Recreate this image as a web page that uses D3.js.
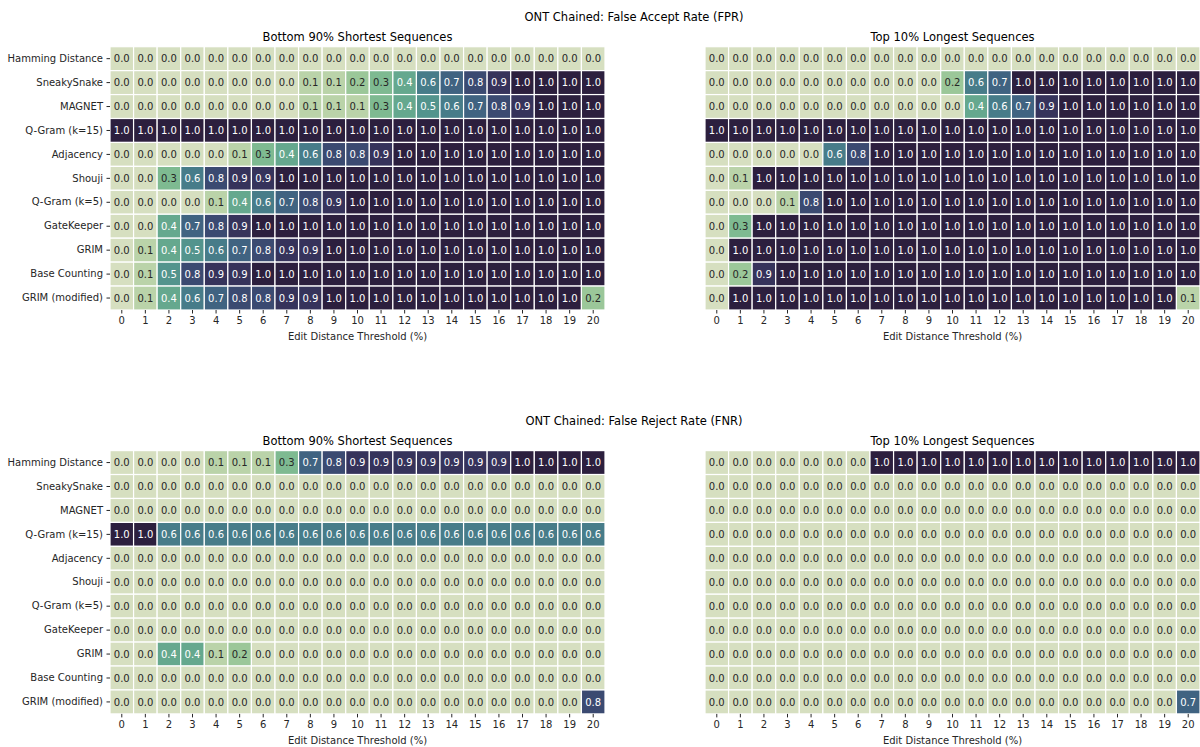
<!DOCTYPE html>
<html>
<head>
	<meta charset="utf-8">
	<title>ONT Chained: FPR / FNR</title>
	<script type="text/javascript" src="https://cdn.jsdelivr.net/npm/d3@7"></script>
	<style type="text/css">
		body {
			margin: 0;
			background: #fff;
		}
		svg text {
			font-family: "DejaVu Sans", sans-serif;
		}
		.axis text {
			font-size: 10px;
			fill: #262626;
		}
		.axis line {
			stroke: #262626;
		}
	</style>
</head>

<body>
	<div id="svgdiv"></div>

	<script type="text/javascript">
		// row labels (filters) and column labels (edit distance threshold %)
		var filters = ["Hamming Distance", "SneakySnake", "MAGNET", "Q-Gram (k=15)", "Adjacency", "Shouji",
			"Q-Gram (k=5)", "GateKeeper", "GRIM", "Base Counting", "GRIM (modified)"];
		var thresholds = [0, 1, 2, 3, 4, 5, 6, 7, 8, 9, 10, 11, 12, 13, 14, 15, 16, 17, 18, 19, 20];

		// False accept rate, bottom 90% shortest sequences
		var fprShort = [
			[0, 0, 0, 0, 0, 0, 0, 0, 0, 0, 0, 0, 0, 0, 0, 0, 0, 0, 0, 0, 0],
			[0, 0, 0, 0, 0, 0, 0, 0, 0.1, 0.1, 0.2, 0.3, 0.4, 0.6, 0.7, 0.8, 0.9, 1, 1, 1, 1],
			[0, 0, 0, 0, 0, 0, 0, 0, 0.1, 0.1, 0.1, 0.3, 0.4, 0.5, 0.6, 0.7, 0.8, 0.9, 1, 1, 1],
			[1, 1, 1, 1, 1, 1, 1, 1, 1, 1, 1, 1, 1, 1, 1, 1, 1, 1, 1, 1, 1],
			[0, 0, 0, 0, 0, 0.1, 0.3, 0.4, 0.6, 0.8, 0.8, 0.9, 1, 1, 1, 1, 1, 1, 1, 1, 1],
			[0, 0, 0.3, 0.6, 0.8, 0.9, 0.9, 1, 1, 1, 1, 1, 1, 1, 1, 1, 1, 1, 1, 1, 1],
			[0, 0, 0, 0, 0.1, 0.4, 0.6, 0.7, 0.8, 0.9, 1, 1, 1, 1, 1, 1, 1, 1, 1, 1, 1],
			[0, 0, 0.4, 0.7, 0.8, 0.9, 1, 1, 1, 1, 1, 1, 1, 1, 1, 1, 1, 1, 1, 1, 1],
			[0, 0.1, 0.4, 0.5, 0.6, 0.7, 0.8, 0.9, 0.9, 1, 1, 1, 1, 1, 1, 1, 1, 1, 1, 1, 1],
			[0, 0.1, 0.5, 0.8, 0.9, 0.9, 1, 1, 1, 1, 1, 1, 1, 1, 1, 1, 1, 1, 1, 1, 1],
			[0, 0.1, 0.4, 0.6, 0.7, 0.8, 0.8, 0.9, 0.9, 1, 1, 1, 1, 1, 1, 1, 1, 1, 1, 1, 0.2]
		];

		// False accept rate, top 10% longest sequences
		var fprLong = [
			[0, 0, 0, 0, 0, 0, 0, 0, 0, 0, 0, 0, 0, 0, 0, 0, 0, 0, 0, 0, 0],
			[0, 0, 0, 0, 0, 0, 0, 0, 0, 0, 0.2, 0.6, 0.7, 1, 1, 1, 1, 1, 1, 1, 1],
			[0, 0, 0, 0, 0, 0, 0, 0, 0, 0, 0, 0.4, 0.6, 0.7, 0.9, 1, 1, 1, 1, 1, 1],
			[1, 1, 1, 1, 1, 1, 1, 1, 1, 1, 1, 1, 1, 1, 1, 1, 1, 1, 1, 1, 1],
			[0, 0, 0, 0, 0, 0.6, 0.8, 1, 1, 1, 1, 1, 1, 1, 1, 1, 1, 1, 1, 1, 1],
			[0, 0.1, 1, 1, 1, 1, 1, 1, 1, 1, 1, 1, 1, 1, 1, 1, 1, 1, 1, 1, 1],
			[0, 0, 0, 0.1, 0.8, 1, 1, 1, 1, 1, 1, 1, 1, 1, 1, 1, 1, 1, 1, 1, 1],
			[0, 0.3, 1, 1, 1, 1, 1, 1, 1, 1, 1, 1, 1, 1, 1, 1, 1, 1, 1, 1, 1],
			[0, 1, 1, 1, 1, 1, 1, 1, 1, 1, 1, 1, 1, 1, 1, 1, 1, 1, 1, 1, 1],
			[0, 0.2, 0.9, 1, 1, 1, 1, 1, 1, 1, 1, 1, 1, 1, 1, 1, 1, 1, 1, 1, 1],
			[0, 1, 1, 1, 1, 1, 1, 1, 1, 1, 1, 1, 1, 1, 1, 1, 1, 1, 1, 1, 0.1]
		];

		// False reject rate, bottom 90% shortest sequences
		var fnrShort = [
			[0, 0, 0, 0, 0.1, 0.1, 0.1, 0.3, 0.7, 0.8, 0.9, 0.9, 0.9, 0.9, 0.9, 0.9, 0.9, 1, 1, 1, 1],
			[0, 0, 0, 0, 0, 0, 0, 0, 0, 0, 0, 0, 0, 0, 0, 0, 0, 0, 0, 0, 0],
			[0, 0, 0, 0, 0, 0, 0, 0, 0, 0, 0, 0, 0, 0, 0, 0, 0, 0, 0, 0, 0],
			[1, 1, 0.6, 0.6, 0.6, 0.6, 0.6, 0.6, 0.6, 0.6, 0.6, 0.6, 0.6, 0.6, 0.6, 0.6, 0.6, 0.6, 0.6, 0.6, 0.6],
			[0, 0, 0, 0, 0, 0, 0, 0, 0, 0, 0, 0, 0, 0, 0, 0, 0, 0, 0, 0, 0],
			[0, 0, 0, 0, 0, 0, 0, 0, 0, 0, 0, 0, 0, 0, 0, 0, 0, 0, 0, 0, 0],
			[0, 0, 0, 0, 0, 0, 0, 0, 0, 0, 0, 0, 0, 0, 0, 0, 0, 0, 0, 0, 0],
			[0, 0, 0, 0, 0, 0, 0, 0, 0, 0, 0, 0, 0, 0, 0, 0, 0, 0, 0, 0, 0],
			[0, 0, 0.4, 0.4, 0.1, 0.2, 0, 0, 0, 0, 0, 0, 0, 0, 0, 0, 0, 0, 0, 0, 0],
			[0, 0, 0, 0, 0, 0, 0, 0, 0, 0, 0, 0, 0, 0, 0, 0, 0, 0, 0, 0, 0],
			[0, 0, 0, 0, 0, 0, 0, 0, 0, 0, 0, 0, 0, 0, 0, 0, 0, 0, 0, 0, 0.8]
		];

		// False reject rate, top 10% longest sequences
		var fnrLong = [
			[0, 0, 0, 0, 0, 0, 0, 1, 1, 1, 1, 1, 1, 1, 1, 1, 1, 1, 1, 1, 1],
			[0, 0, 0, 0, 0, 0, 0, 0, 0, 0, 0, 0, 0, 0, 0, 0, 0, 0, 0, 0, 0],
			[0, 0, 0, 0, 0, 0, 0, 0, 0, 0, 0, 0, 0, 0, 0, 0, 0, 0, 0, 0, 0],
			[0, 0, 0, 0, 0, 0, 0, 0, 0, 0, 0, 0, 0, 0, 0, 0, 0, 0, 0, 0, 0],
			[0, 0, 0, 0, 0, 0, 0, 0, 0, 0, 0, 0, 0, 0, 0, 0, 0, 0, 0, 0, 0],
			[0, 0, 0, 0, 0, 0, 0, 0, 0, 0, 0, 0, 0, 0, 0, 0, 0, 0, 0, 0, 0],
			[0, 0, 0, 0, 0, 0, 0, 0, 0, 0, 0, 0, 0, 0, 0, 0, 0, 0, 0, 0, 0],
			[0, 0, 0, 0, 0, 0, 0, 0, 0, 0, 0, 0, 0, 0, 0, 0, 0, 0, 0, 0, 0],
			[0, 0, 0, 0, 0, 0, 0, 0, 0, 0, 0, 0, 0, 0, 0, 0, 0, 0, 0, 0, 0],
			[0, 0, 0, 0, 0, 0, 0, 0, 0, 0, 0, 0, 0, 0, 0, 0, 0, 0, 0, 0, 0],
			[0, 0, 0, 0, 0, 0, 0, 0, 0, 0, 0, 0, 0, 0, 0, 0, 0, 0, 0, 0, 0.7]
		];

		var w = 1200;
		var h = 747;

		var svg = d3.select("#svgdiv")
			.append("svg")
			.attr("width", w)
			.attr("height", h);

		// seaborn cubehelix_palette(start=.5, rot=-.75), light=.85 dark=.15
		function cubehelix(v) {
			var start = 0.5, rot = -0.75, hue = 0.8;
			var x = 0.85 + (0.15 - 0.85) * v;
			var a = hue * x * (1 - x) / 2;
			var phi = 2 * Math.PI * (start / 3 + rot * x);
			function ch(p0, p1) {
				var c = x + a * (p0 * Math.cos(phi) + p1 * Math.sin(phi));
				return Math.max(0, Math.min(1, c));
			}
			return [ch(-0.14861, 1.78277), ch(-0.29227, -0.90649), ch(1.97294, 0)];
		}
		var colorScale = d3.scaleLinear().domain([0, 1]).range([0, 1]).clamp(true);

		function fillOf(v) {
			var c = cubehelix(colorScale(v));
			return d3.rgb(c[0] * 255, c[1] * 255, c[2] * 255).toString();
		}

		// seaborn picks dark or white annotation from luminance
		function textOf(v) {
			var c = cubehelix(colorScale(v)).map(function(u) {
				return u <= 0.03928 ? u / 12.92 : Math.pow((u + 0.055) / 1.055, 2.4);
			});
			var l = 0.2126 * c[0] + 0.7152 * c[1] + 0.0722 * c[2];
			return l > 0.408 ? "#262626" : "#ffffff";
		}

		// block tops (first and second figure row) and panel x extents
		var blockTop = [46.7, 450.6];
		var blockH = 263.3;
		var panelX = [[110, 605], [705, 1200]];
		var suptitles = ["ONT Chained: False Accept Rate (FPR)", "ONT Chained: False Reject Rate (FNR)"];
		var subtitles = ["Bottom 90% Shortest Sequences", "Top 10% Longest Sequences"];
		var grids = [[fprShort, fprLong], [fnrShort, fnrLong]];

		for (var b = 0; b < 2; b++) {
			svg.append("text")
				.attr("x", 634)
				.attr("y", blockTop[b] - 26)
				.attr("text-anchor", "middle")
				.attr("font-size", "11.5px")
				.attr("fill", "#000")
				.text(suptitles[b]);

			for (var p = 0; p < 2; p++) {
				drawHeatmap(grids[b][p], panelX[p][0], panelX[p][1], blockTop[b], subtitles[p], p == 0);
			}
		}

		function drawHeatmap(grid, x0, x1, top, title, showRows) {
			var xscale = d3.scaleBand()
				.domain(thresholds)
				.range([x0, x1]);
			var yscale = d3.scaleBand()
				.domain(filters)
				.range([top, top + blockH]);

			var cells = [];
			grid.forEach(function(row, i) {
				row.forEach(function(v, j) {
					cells.push({ f: filters[i], t: thresholds[j], v: v });
				});
			});

			var g = svg.append("g");

			g.selectAll("rect")
				.data(cells)
				.enter()
				.append("rect")
				.attr("x", function(d) { return xscale(d.t); })
				.attr("y", function(d) { return yscale(d.f); })
				.attr("width", xscale.bandwidth())
				.attr("height", yscale.bandwidth())
				.attr("fill", function(d) { return fillOf(d.v); })
				.attr("stroke", "#fff")
				.attr("stroke-width", 1.2);

			g.selectAll("text")
				.data(cells)
				.enter()
				.append("text")
				.attr("x", function(d) { return xscale(d.t) + xscale.bandwidth() / 2; })
				.attr("y", function(d) { return yscale(d.f) + yscale.bandwidth() / 2; })
				.attr("dy", "0.36em")
				.attr("text-anchor", "middle")
				.attr("font-size", "10px")
				.attr("fill", function(d) { return textOf(d.v); })
				.text(function(d) { return d3.format(".1f")(d.v); });

			// x axis with small ticks, no spine
			svg.append("g")
				.attr("class", "axis")
				.attr("transform", "translate(0," + (top + blockH) + ")")
				.call(d3.axisBottom(xscale).tickSize(3.5).tickPadding(3.5))
				.call(function(a) { a.select(".domain").remove(); });

			if (showRows) {
				svg.append("g")
					.attr("class", "axis")
					.attr("transform", "translate(" + x0 + ",0)")
					.call(d3.axisLeft(yscale).tickSize(3.5).tickPadding(3.5))
					.call(function(a) { a.select(".domain").remove(); });
			}

			svg.append("text")
				.attr("x", (x0 + x1) / 2)
				.attr("y", top - 5.8)
				.attr("text-anchor", "middle")
				.attr("font-size", "11.5px")
				.attr("fill", "#000")
				.text(title);

			svg.append("text")
				.attr("x", (x0 + x1) / 2)
				.attr("y", top + blockH + 30)
				.attr("text-anchor", "middle")
				.attr("font-size", "10px")
				.attr("fill", "#262626")
				.text("Edit Distance Threshold (%)");
		}
	</script>
</body>
</html>
